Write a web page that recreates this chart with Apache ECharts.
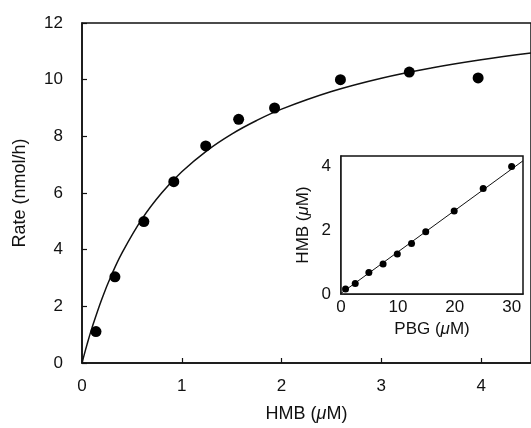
<!DOCTYPE html>
<html>
<head>
<meta charset="utf-8">
<script src="https://cdn.jsdelivr.net/npm/echarts@6/dist/echarts.min.js"></script>
<style>
  html, body { margin: 0; padding: 0; background: #fff; }
  #chart { width: 531px; height: 428px; }
</style>
</head>
<body>
<div id="chart"></div>
<script>
// Main panel: rate of HMB consumption versus HMB concentration
const hmbConc = [0.14, 0.33, 0.62, 0.92, 1.24, 1.57, 1.93, 2.59, 3.28, 3.97];
const rateValues = [1.11, 3.04, 4.99, 6.40, 7.66, 8.60, 9.00, 10.00, 10.27, 10.06];

// Saturation curve through the data
const curveX = [0, 0.05, 0.1, 0.2, 0.3, 0.4, 0.6, 0.8, 1.0, 1.25, 1.5, 1.75, 2.0, 2.5, 3.0, 3.5, 4.0, 4.5];
const curveY = [0, 0.65, 1.24, 2.27, 3.14, 3.88, 5.08, 6.01, 6.75, 7.49, 8.08, 8.56, 8.96, 9.58, 10.05, 10.41, 10.70, 10.94];

// Inset: HMB formed versus PBG supplied
const pbgConc = [0.8, 2.5, 4.9, 7.4, 9.9, 12.4, 14.9, 19.9, 25.0, 30.0];
const hmbFormed = [0.16, 0.33, 0.67, 0.94, 1.25, 1.58, 1.95, 2.60, 3.30, 3.99];
const fitLineX = [0, 32];
const fitLineY = [0.02, 4.17];

// Axis tick values
const mainXTicks = [0, 1, 2, 3, 4];
const mainYTicks = [0, 2, 4, 6, 8, 10, 12];
const insetXTicks = [0, 10, 20, 30];
const insetYTicks = [0, 2, 4];

const FONT = '"Liberation Sans", Arial, sans-serif';
const INK = '#111';

function richFor(size) {
  return { i: { fontStyle: 'italic', fontSize: size, fontFamily: FONT, color: INK } };
}

function pairs(xs, ys) { return xs.map((x, k) => [x, ys[k]]); }

const chart = echarts.init(document.getElementById('chart'), null, { renderer: 'canvas' });

chart.setOption({
  animation: false,
  backgroundColor: '#fff',
  grid: [
    { left: 82, top: 23, right: -13, bottom: 63, show: true, borderColor: INK, borderWidth: 1.5, backgroundColor: 'transparent' },
    { left: 341, top: 156, width: 182, height: 138, show: true, borderColor: INK, borderWidth: 1.5, backgroundColor: '#fff', z: 5 }
  ],
  xAxis: [
    {
      gridIndex: 0, type: 'value',
      min: mainXTicks[0], max: 4.5, interval: mainXTicks[1] - mainXTicks[0],
      name: 'HMB ({i|μ}M)', nameLocation: 'middle', nameGap: 42,
      nameTextStyle: { fontSize: 18, fontFamily: FONT, color: INK, rich: richFor(18) },
      axisLine: { lineStyle: { color: INK, width: 1.5 } },
      axisTick: { inside: true, length: 5, lineStyle: { color: INK, width: 1.2 } },
      axisLabel: { fontSize: 17, fontFamily: FONT, color: INK, margin: 15, showMaxLabel: false },
      splitLine: { show: false }
    },
    {
      gridIndex: 1, type: 'value',
      min: insetXTicks[0], max: 32, interval: insetXTicks[1] - insetXTicks[0],
      name: 'PBG ({i|μ}M)', nameLocation: 'middle', nameGap: 27,
      nameTextStyle: { fontSize: 17, fontFamily: FONT, color: INK, rich: richFor(17) },
      axisLine: { lineStyle: { color: INK, width: 1.5 } },
      axisTick: { inside: true, length: 3, lineStyle: { color: '#777', width: 1 } },
      axisLabel: { fontSize: 17, fontFamily: FONT, color: INK, margin: 5, showMaxLabel: false },
      splitLine: { show: false }
    }
  ],
  yAxis: [
    {
      gridIndex: 0, type: 'value',
      min: mainYTicks[0], max: mainYTicks[mainYTicks.length - 1], interval: mainYTicks[1] - mainYTicks[0],
      name: 'Rate (nmol/h)', nameLocation: 'middle', nameGap: 53, nameRotate: 90,
      nameTextStyle: { fontSize: 18, fontFamily: FONT, color: INK },
      axisLine: { lineStyle: { color: INK, width: 1.5 } },
      axisTick: { inside: true, length: 5, lineStyle: { color: INK, width: 1.2 } },
      axisLabel: { fontSize: 17, fontFamily: FONT, color: INK, margin: 19 },
      splitLine: { show: false }
    },
    {
      gridIndex: 1, type: 'value',
      min: insetYTicks[0], max: 4.32, interval: insetYTicks[1] - insetYTicks[0],
      name: 'HMB ({i|μ}M)', nameLocation: 'middle', nameGap: 29, nameRotate: 90,
      nameTextStyle: { fontSize: 17, fontFamily: FONT, color: INK, rich: richFor(17) },
      axisLine: { lineStyle: { color: INK, width: 1.5 } },
      axisTick: { inside: true, length: 3, lineStyle: { color: '#777', width: 1 } },
      axisLabel: { fontSize: 17, fontFamily: FONT, color: INK, margin: 10, showMaxLabel: false },
      splitLine: { show: false }
    }
  ],
  series: [
    {
      type: 'line', xAxisIndex: 0, yAxisIndex: 0,
      data: pairs(curveX, curveY), smooth: 0.4, showSymbol: false,
      lineStyle: { color: INK, width: 1.5 }, z: 2
    },
    {
      type: 'scatter', xAxisIndex: 0, yAxisIndex: 0,
      data: pairs(hmbConc, rateValues), symbolSize: 11,
      itemStyle: { color: '#000', opacity: 1 }, z: 3
    },
    {
      type: 'line', xAxisIndex: 1, yAxisIndex: 1,
      data: pairs(fitLineX, fitLineY), showSymbol: false,
      lineStyle: { color: INK, width: 1 }, z: 6
    },
    {
      type: 'scatter', xAxisIndex: 1, yAxisIndex: 1,
      data: pairs(pbgConc, hmbFormed), symbolSize: 7,
      itemStyle: { color: '#000', opacity: 1 }, z: 7
    }
  ]
});
</script>
</body>
</html>
